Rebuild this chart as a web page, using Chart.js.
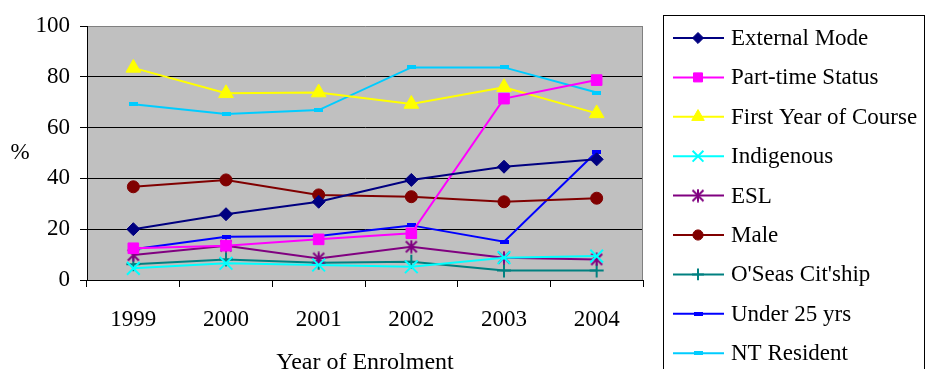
<!DOCTYPE html>
<html>
<head>
<meta charset="utf-8">
<title>Student characteristics by year of enrolment</title>
<script src="https://cdn.jsdelivr.net/npm/chart.js"></script>
<style>
  html, body { margin: 0; padding: 0; background: #ffffff; }
  #wrap { width: 925px; height: 369px; position: relative; overflow: hidden; }
  canvas { display: block; }
</style>
</head>
<body>
<div id="wrap"><canvas id="chart" width="925" height="369"></canvas></div>
<script>
// Years on the horizontal axis
const years = ['1999', '2000', '2001', '2002', '2003', '2004'];

// Percentage of students in each group, per year of enrolment
const externalMode = [20.0, 25.9, 30.8, 39.4, 44.6, 47.5];
const partTimeStatus = [12.5, 13.5, 16.0, 18.4, 71.4, 78.7];
const firstYearOfCourse = [83.5, 73.5, 73.8, 69.3, 75.9, 65.6];
const indigenous = [4.6, 6.6, 5.9, 5.2, 8.8, 9.4];
const esl = [9.8, 13.5, 8.5, 13.1, 8.8, 8.1];
const male = [36.7, 39.4, 33.5, 32.8, 30.8, 32.2];
const overseasCitizenship = [6.2, 8.1, 6.8, 7.2, 3.7, 3.7];
const under25 = [12.1, 17.0, 17.3, 21.5, 15.1, 50.5];
const ntResident = [69.2, 65.4, 66.9, 83.7, 83.7, 73.8];

// Value axis ticks
const yTicks = [0, 20, 40, 60, 80, 100];

const SERIF = '"Liberation Serif", "Times New Roman", serif';

// Small bar-shaped marker
function dashMarker(color, w, h) {
  const c = document.createElement('canvas');
  c.width = w; c.height = h;
  const g = c.getContext('2d');
  g.fillStyle = color;
  g.fillRect(0, 0, w, h);
  return c;
}

// Asterisk marker: an X crossed by a vertical stroke
function asteriskMarker(color, size, width) {
  const c = document.createElement('canvas');
  c.width = size; c.height = size;
  const g = c.getContext('2d');
  const m = size / 2, d = size / 2 - 1.5;
  g.strokeStyle = color;
  g.lineWidth = width;
  g.beginPath();
  g.moveTo(m - d, m - d); g.lineTo(m + d, m + d);
  g.moveTo(m + d, m - d); g.lineTo(m - d, m + d);
  g.moveTo(m, 0.5); g.lineTo(m, size - 0.5);
  g.stroke();
  return c;
}

function series(label, data, color, style, radius, pointBorder) {
  return {
    label: label,
    data: data,
    borderColor: color,
    backgroundColor: color,
    borderWidth: 2,
    pointStyle: style,
    pointRadius: radius,
    pointHoverRadius: radius,
    pointBackgroundColor: color,
    pointBorderColor: color,
    pointBorderWidth: pointBorder,
    tension: 0,
    fill: false
  };
}

const datasets = [
  series('External Mode', externalMode, '#000080', 'rectRot', 6.5, 1),
  series('Part-time Status', partTimeStatus, '#FF00FF', 'rect', 7.5, 1),
  series('First Year of Course', firstYearOfCourse, '#FFFF00', 'triangle', 8.5, 1),
  series('Indigenous', indigenous, '#00FFFF', 'crossRot', 9, 2),
  series('ESL', esl, '#800080', asteriskMarker('#800080', 14, 2), 7, 2),
  series('Male', male, '#800000', 'circle', 6, 1),
  series("O'Seas Cit'ship", overseasCitizenship, '#008080', 'cross', 7, 2),
  series('Under 25 yrs', under25, '#0000FF', dashMarker('#0000FF', 9, 4), 5, 1),
  series('NT Resident', ntResident, '#00CCFF', dashMarker('#00CCFF', 9, 4), 5, 1)
];

// Grey plot background with a grey frame on the right side
const plotFrame = {
  id: 'plotFrame',
  beforeDraw(chart) {
    const { ctx, chartArea: a } = chart;
    ctx.save();
    ctx.fillStyle = '#C0C0C0';
    ctx.fillRect(a.left, a.top, a.right - a.left, a.bottom - a.top);
    ctx.restore();
  },
  beforeDatasetsDraw(chart) {
    const { ctx, chartArea: a } = chart;
    ctx.save();
    ctx.strokeStyle = '#808080';
    ctx.lineWidth = 1;
    ctx.beginPath();
    ctx.moveTo(Math.round(a.right) - 0.5, a.top);
    ctx.lineTo(Math.round(a.right) - 0.5, a.bottom);
    ctx.stroke();
    ctx.restore();
  }
};

// Horizontal "%" label beside the value axis
const percentLabel = {
  id: 'percentLabel',
  afterDraw(chart) {
    const { ctx } = chart;
    const y = chart.scales.y;
    ctx.save();
    ctx.font = '23px ' + SERIF;
    ctx.fillStyle = '#000';
    ctx.textAlign = 'center';
    ctx.textBaseline = 'middle';
    ctx.fillText('%', 20, (y.top + y.bottom) / 2);
    ctx.restore();
  }
};

// Boxed legend on the right, one row per series: line segment, marker, name
const boxLegend = {
  id: 'boxLegend',
  afterDraw(chart) {
    const { ctx } = chart;
    const left = 663.5, top = 15.5, right = 924.5, bottom = 400;
    const rowTop = 38, rowGap = 39.4;
    ctx.save();
    ctx.fillStyle = '#fff';
    ctx.fillRect(left, top, right - left, bottom - top);
    ctx.strokeStyle = '#000';
    ctx.lineWidth = 1;
    ctx.strokeRect(left, top, right - left, bottom - top);
    chart.data.datasets.forEach((ds, i) => {
      const y = rowTop + i * rowGap;
      ctx.strokeStyle = ds.borderColor;
      ctx.lineWidth = ds.borderWidth;
      ctx.beginPath();
      ctx.moveTo(673, y);
      ctx.lineTo(724, y);
      ctx.stroke();
      ctx.fillStyle = ds.pointBackgroundColor;
      ctx.strokeStyle = ds.pointBorderColor;
      ctx.lineWidth = ds.pointBorderWidth;
      Chart.helpers.drawPoint(ctx, {
        pointStyle: ds.pointStyle,
        radius: ds.pointRadius * 0.85,
        rotation: 0,
        borderWidth: ds.pointBorderWidth
      }, 698, y);
      ctx.fillStyle = '#000';
      ctx.font = '23px ' + SERIF;
      ctx.textAlign = 'left';
      ctx.textBaseline = 'middle';
      ctx.fillText(ds.label, 731, y + 1);
    });
    ctx.restore();
  }
};

new Chart(document.getElementById('chart'), {
  type: 'line',
  data: { labels: years, datasets: datasets },
  plugins: [plotFrame, percentLabel, boxLegend],
  options: {
    responsive: false,
    animation: false,
    events: [],
    layout: { padding: { left: 0, top: 26, right: 282, bottom: 0 } },
    plugins: {
      legend: { display: false },
      tooltip: { enabled: false }
    },
    scales: {
      x: {
        type: 'category',
        offset: true,
        afterFit(scale) { scale.height = 89; },
        border: { display: true, color: '#000', width: 1 },
        grid: {
          offset: true,
          drawOnChartArea: false,
          drawTicks: true,
          tickLength: 7,
          tickColor: '#000',
          color: '#000'
        },
        ticks: {
          color: '#000',
          font: { family: SERIF, size: 23 },
          padding: 19,
          maxRotation: 0,
          autoSkip: false
        },
        title: {
          display: true,
          text: 'Year of Enrolment',
          color: '#000',
          font: { family: SERIF, size: 24, lineHeight: 0.5 },
          padding: 0
        }
      },
      y: {
        min: 0,
        max: 100,
        afterFit(scale) { scale.width = 87; },
        afterBuildTicks(scale) { scale.ticks = yTicks.map(v => ({ value: v })); },
        border: { display: true, color: '#000', width: 1 },
        grid: {
          drawOnChartArea: true,
          drawTicks: true,
          tickLength: 7,
          tickColor: '#000',
          color: (c) => (c.tick && c.tick.value === 100 ? '#808080' : '#000'),
          lineWidth: 1
        },
        ticks: {
          color: '#000',
          font: { family: SERIF, size: 23 },
          padding: 10
        }
      }
    }
  }
});
</script>
</body>
</html>
